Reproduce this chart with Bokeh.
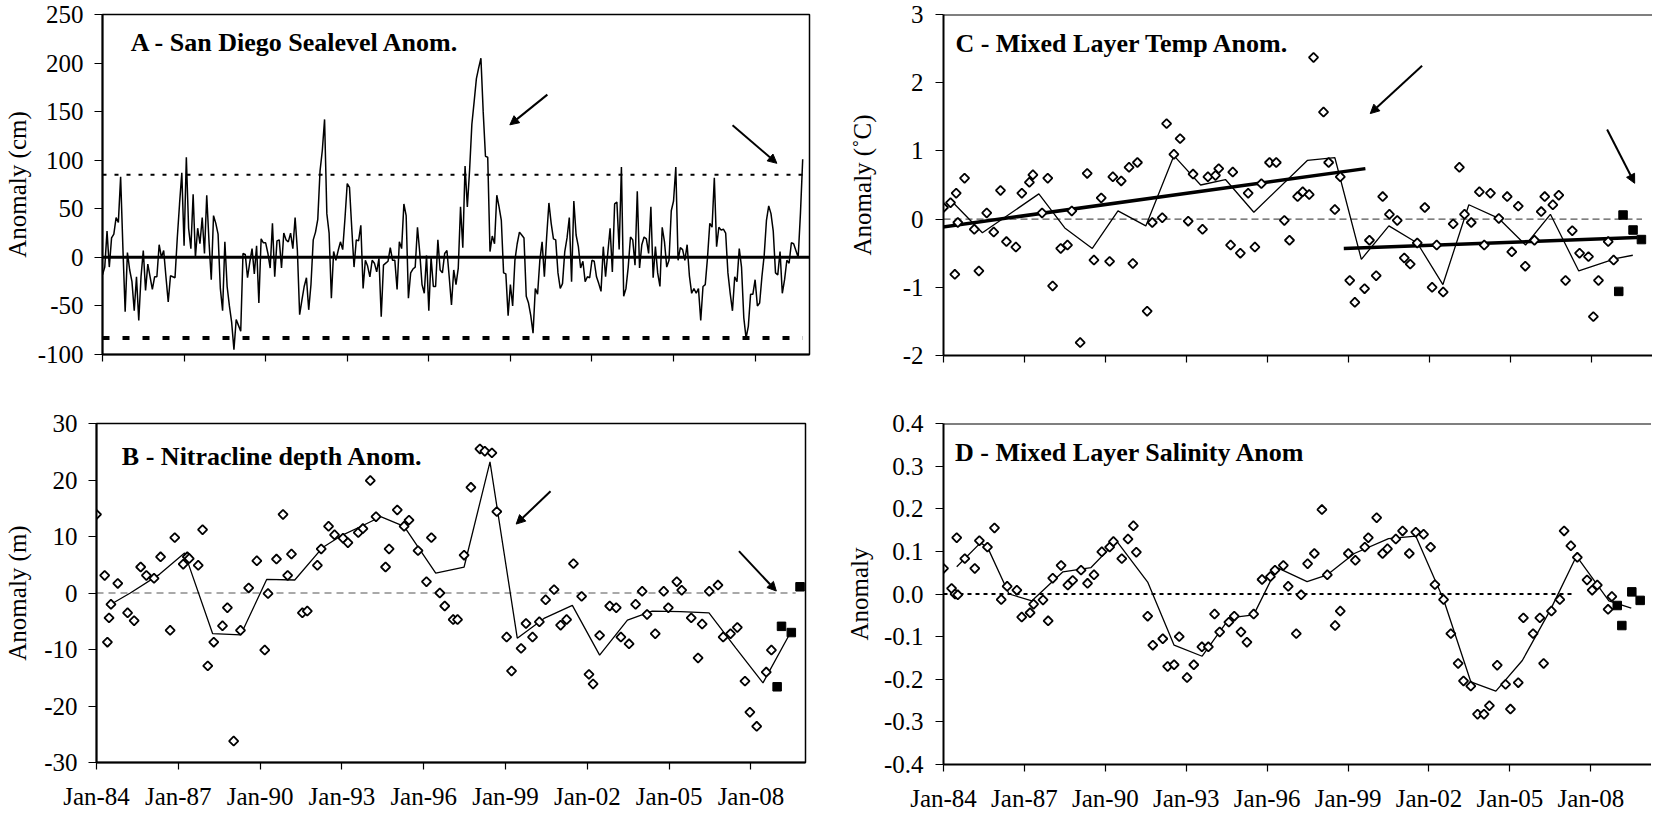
import numpy as np
from bokeh.plotting import figure
from bokeh.models import Range1d, FixedTicker, Label, Arrow, NormalHead, Span, NumeralTickFormatter
from bokeh.layouts import column, row
from bokeh.embed import file_html
from bokeh.resources import INLINE

FONT = "Liberation Serif"
FS = "25px"
TFS = "26px"

# ---------------- data ----------------
tick_years = [1984, 1987, 1990, 1993, 1996, 1999, 2002, 2005, 2008]
tick_labels = ["Jan-84", "Jan-87", "Jan-90", "Jan-93", "Jan-96", "Jan-99", "Jan-02", "Jan-05", "Jan-08"]

# A - San Diego sea level anomaly (cm), monthly from Jan 1984
sealevel_start = 1984.0
sealevel = [
    -18, -10, 27, -10, 20, 24, 41, 36, 83, 10, -56, 5,
    -13, -25, -55, -20, -65, -20, 7, -34, -7, -20, -33, -20,
    -20, 13, 0, 7, -20, -46, -19, -20, -21, 20, 55, 87,
    12, 103, 30, 9, 65, 0, 30, 14, 41, 4, 64, 16,
    -23, 43, 35, 24, -32, -55, 16, -30, -50, -67, -95, -64,
    -70, -76, 4, 3, -21, -5, 9, -17, 12, -47, 19, 15,
    15, 4, -11, 35, -20, 17, 18, -11, 25, 18, 16, 25,
    9, 41, 7, -59, -44, -30, -21, -54, -28, 18, 26, 39,
    89, 110, 142, 45, 25, -42, 6, -3, 7, 16, 8, 40,
    76, 72, 30, -10, 18, 17, 33, -32, -3, -9, -20, -3,
    -6, -15, -1, -61, -8, -6, -4, 10, -3, -3, -33, 16,
    9, 55, 43, -42, -16, -12, -10, 31, 5, -28, -37, 2,
    -55, 0, -30, -30, 18, -13, -16, 4, 7, -20, -49, -13,
    -28, -11, 52, 10, 94, 52, 90, 137, 160, 184, 195, 205,
    150, 104, 103, 6, 22, 14, 64, 52, 38, -16, -17, -60,
    -28, -50, -3, 14, 26, 23, 20, -40, -47, -60, -78, -32,
    -38, -3, 16, -20, 21, 56, 35, 19, 18, -16, -32, -27,
    6, 20, 41, -25, 58, 23, 11, -11, -4, -25, -20, -21,
    -3, -4, -20, -27, -35, 11, -20, 5, 30, -15, 55, 57,
    8, 93, -40, -32, -10, 21, 18, -8, 68, -11, 13, 21,
    19, 4, 52, -21, 11, -16, -30, 31, 16, -10, -3, 48,
    58, 93, -3, 10, 8, -3, 13, -19, -37, -32, -37, -32,
    -65, -30, -28, 0, 35, 31, 82, 11, 31, 28, 29, 25,
    -16, -37, -55, -20, -25, 9, -10, -62, -83, -71, -38, -38,
    -23, -50, -47, -20, 2, 38, 53, 45, 27, -16, -18, 6,
    -37, -23, -3, -6, 15, 14, 7, 0, 45, 101,
]
sealevel_upper = 85
sealevel_lower = -83
sealevel_ref_x = [1984.0, 2009.75]

# B - Nitracline depth anomaly (m)
nitra_x = [1984.00, 1984.30, 1984.40, 1984.46, 1984.53, 1984.78, 1985.14, 1985.38, 1985.62, 1985.83,
           1986.11, 1986.35, 1986.70, 1986.87, 1987.18, 1987.33, 1987.40, 1987.73, 1987.89, 1988.08,
           1988.30, 1988.62, 1988.80, 1989.03, 1989.28, 1989.58, 1989.88, 1990.17, 1990.29, 1990.60,
           1990.84, 1991.01, 1991.15, 1991.55, 1991.73, 1992.10, 1992.24, 1992.51, 1992.73, 1993.04,
           1993.22, 1993.60, 1993.77, 1994.04, 1994.25, 1994.60, 1994.73, 1995.03, 1995.28, 1995.46,
           1995.79, 1996.10, 1996.28, 1996.59, 1996.77, 1997.08, 1997.24, 1997.48, 1997.73, 1998.06,
           1998.24, 1998.50, 1998.68, 1999.04, 1999.22, 1999.57, 1999.75, 1999.99, 2000.24, 2000.47,
           2000.78, 2001.02, 2001.24, 2001.49, 2001.79, 2002.06, 2002.21, 2002.45, 2002.82, 2003.06,
           2003.23, 2003.53, 2003.77, 2004.01, 2004.19, 2004.49, 2004.80, 2004.97, 2005.28, 2005.46,
           2005.81, 2006.06, 2006.21, 2006.47, 2006.79, 2006.98, 2007.25, 2007.50, 2007.78, 2007.96,
           2008.21, 2008.56, 2008.75]
nitra_y = [13.9, 3.1, -8.7, -4.4, -2.0, 1.7, -3.5, -4.9, 4.6, 3.1,
           2.6, 6.4, -6.6, 9.8, 5.1, 6.4, 6.1, 4.9, 11.2, -12.9,
           -8.7, -5.8, -2.6, -26.2, -6.6, 0.9, 5.7, -10.1, -0.1, 6.0,
           13.9, 3.1, 6.9, -3.5, -3.2, 4.9, 7.8, 11.8, 10.3, 9.7,
           8.9, 10.7, 11.4, 19.9, 13.5, 4.6, 7.8, 14.7, 11.8, 12.9,
           7.5, 2.0, 9.8, 0.0, -2.3, -4.7, -4.7, 6.7, 18.7, 25.5,
           25.1, 24.8, 14.4, -7.8, -13.8, -9.8, -5.4, -7.8, -5.1, -1.2,
           0.6, -5.7, -4.7, 5.2, -0.6, -14.4, -16.1, -7.5, -2.3, -2.6,
           -7.8, -9.0, -2.0, 0.3, -3.8, -7.2, 0.3, -2.6, 2.0, 0.5,
           -4.4, -11.5, -5.5, 0.3, 1.4, -7.8, -7.2, -6.1, -15.6, -21.1,
           -23.6, -14.0, -10.1]
nitra_line_x = [1984.53, 1985.24, 1986.31, 1987.23, 1988.26, 1989.29, 1990.24, 1991.27, 1992.28, 1992.96,
                1993.75, 1994.42, 1995.28, 1996.44, 1997.48, 1998.43, 1999.43, 2000.41, 2001.45, 2002.45,
                2003.47, 2004.38, 2005.42, 2006.46, 2007.44, 2008.44, 2009.45]
nitra_line_y = [-2.0, 0.0, 3.3, 7.1, -7.2, -7.4, 2.4, 2.3, 8.0, 10.1,
                11.9, 13.5, 11.8, 3.5, 4.6, 23.2, -8.0, -4.5, -2.2, -11.0,
                -4.8, -3.2, -3.3, -3.5, -9.7, -15.9, -7.0]
nitra_new_x = [2008.96, 2009.12, 2009.48, 2009.80]
nitra_new_y = [-16.6, -5.9, -7.0, 1.1]
nitra_zero_x = [1984.0, 2009.64]

# C - Mixed layer temperature anomaly (deg C)
temp_x = [1984.00, 1984.26, 1984.42, 1984.47, 1984.53, 1984.78, 1985.14, 1985.31, 1985.60, 1985.86,
          1986.11, 1986.33, 1986.68, 1986.90, 1987.18, 1987.31, 1987.65, 1987.86, 1988.04, 1988.34,
          1988.59, 1988.75, 1989.06, 1989.32, 1989.57, 1989.84, 1990.15, 1990.27, 1990.58, 1990.87,
          1991.01, 1991.18, 1991.54, 1991.73, 1992.10, 1992.26, 1992.53, 1992.76, 1993.06, 1993.24,
          1993.59, 1993.79, 1994.07, 1994.19, 1994.63, 1994.71, 1994.99, 1995.28, 1995.53, 1995.77,
          1996.07, 1996.32, 1996.62, 1996.81, 1997.11, 1997.30, 1997.54, 1997.70, 1998.07, 1998.26,
          1998.49, 1998.69, 1999.04, 1999.23, 1999.59, 1999.77, 2000.02, 2000.26, 2000.51, 2000.80,
          2001.06, 2001.28, 2001.54, 2001.82, 2002.09, 2002.26, 2002.50, 2002.87, 2003.10, 2003.29,
          2003.54, 2003.84, 2004.02, 2004.25, 2004.56, 2004.87, 2005.04, 2005.28, 2005.54, 2005.88,
          2006.13, 2006.26, 2006.56, 2006.78, 2007.03, 2007.28, 2007.55, 2007.88, 2008.06, 2008.25,
          2008.61, 2008.81]
temp_y = [0.17, 0.24, -0.81, 0.38, -0.05, 0.60, -0.15, -0.76, 0.09, -0.19,
          0.42, -0.33, -0.41, 0.38, 0.54, 0.65, 0.09, 0.60, -0.98, -0.43,
          -0.38, 0.12, -1.81, 0.67, -0.60, 0.31, -0.62, 0.62, 0.56, 0.76,
          -0.65, 0.83, -1.35, -0.05, 0.02, 1.40, 0.95, 1.18, -0.03, 0.66,
          -0.15, 0.62, 0.64, 0.74, -0.38, 0.69, -0.50, 0.38, -0.41, 0.52,
          0.83, 0.83, -0.02, -0.31, 0.33, 0.40, 0.36, 2.37, 1.57, 0.83,
          0.14, 0.62, -0.90, -1.22, -1.02, -0.31, -0.83, 0.33, 0.07, -0.02,
          -0.57, -0.66, -0.35, 0.17, -1.00, -0.38, -1.07, -0.07, 0.76, 0.07,
          -0.05, 0.40, -0.38, 0.38, 0.01, 0.33, -0.48, 0.19, -0.69, -0.31,
          0.11, 0.33, 0.21, 0.35, -0.90, -0.17, -0.50, -0.55, -1.43, -0.90,
          -0.33, -0.60]
temp_line_x = [1984.26, 1985.44, 1987.53, 1988.49, 1989.51, 1990.46, 1991.49, 1992.53, 1993.52, 1994.44,
               1995.49, 1997.47, 1998.49, 1999.47, 2000.49, 2001.54, 2002.49, 2003.45, 2004.56, 2005.55,
               2006.47, 2007.52, 2008.88, 2009.52]
temp_line_y = [0.28, -0.20, 0.37, -0.13, -0.43, 0.12, -0.10, 0.93, 0.50, 0.58,
               0.10, 0.86, 0.90, -0.59, -0.10, -0.35, -0.96, 0.21, 0.01, -0.38,
               0.07, -0.76, -0.58, -0.53]
temp_trend1_x = [1983.89, 1999.62]
temp_trend1_y = [-0.12, 0.74]
temp_trend2_x = [1998.82, 2009.68]
temp_trend2_y = [-0.43, -0.27]
temp_new_x = [2009.00, 2009.16, 2009.53, 2009.84]
temp_new_y = [-1.06, 0.06, -0.16, -0.30]
temp_zero_x = [1984.0, 2009.86]

# D - Mixed layer salinity anomaly
sal_x = [1984.00, 1984.30, 1984.43, 1984.49, 1984.53, 1984.79, 1985.16, 1985.33, 1985.63, 1985.89,
         1986.14, 1986.36, 1986.72, 1986.90, 1987.21, 1987.34, 1987.69, 1987.88, 1988.05, 1988.36,
         1988.61, 1988.79, 1989.10, 1989.34, 1989.58, 1989.87, 1990.16, 1990.30, 1990.61, 1990.84,
         1991.04, 1991.15, 1991.57, 1991.76, 1992.13, 1992.31, 1992.55, 1992.74, 1993.03, 1993.28,
         1993.58, 1993.82, 1994.05, 1994.24, 1994.58, 1994.78, 1995.03, 1995.25, 1995.50, 1995.81,
         1996.12, 1996.29, 1996.60, 1996.78, 1997.08, 1997.26, 1997.50, 1997.75, 1998.03, 1998.23,
         1998.52, 1998.71, 1999.01, 1999.27, 1999.62, 1999.75, 2000.06, 2000.28, 2000.46, 2000.77,
         2001.02, 2001.27, 2001.51, 2001.80, 2002.06, 2002.22, 2002.54, 2002.81, 2003.08, 2003.28,
         2003.55, 2003.80, 2004.04, 2004.24, 2004.53, 2004.84, 2005.02, 2005.31, 2005.50, 2005.86,
         2006.11, 2006.25, 2006.54, 2006.85, 2007.01, 2007.26, 2007.50, 2007.86, 2008.05, 2008.24,
         2008.64, 2008.78]
sal_y = [0.060, 0.013, 0.000, 0.132, -0.002, 0.083, 0.060, 0.125, 0.110, 0.155,
         -0.013, 0.018, 0.009, -0.054, -0.044, -0.024, -0.014, -0.063, 0.037, 0.067,
         0.021, 0.032, 0.056, 0.025, 0.045, 0.099, 0.110, 0.123, 0.083, 0.129,
         0.160, 0.098, -0.052, -0.120, -0.105, -0.170, -0.166, -0.100, -0.196, -0.166,
         -0.124, -0.124, -0.047, -0.089, -0.066, -0.052, -0.089, -0.113, -0.047, 0.034,
         0.041, 0.056, 0.067, 0.018, -0.093, -0.002, 0.071, 0.095, 0.198, 0.045,
         -0.074, -0.040, 0.095, 0.079, 0.110, 0.132, 0.179, 0.095, 0.106, 0.129,
         0.148, 0.095, 0.145, 0.140, 0.110, 0.022, -0.013, -0.093, -0.163, -0.204,
         -0.216, -0.282, -0.282, -0.262, -0.167, -0.212, -0.270, -0.208, -0.056, -0.093,
         -0.056, -0.163, -0.040, -0.013, 0.148, 0.113, 0.086, 0.033, 0.009, 0.021,
         -0.036, -0.006]
sal_line_x = [1984.49, 1985.37, 1985.63, 1986.43, 1987.28, 1988.43, 1989.47, 1990.42, 1991.57, 1992.55,
              1993.59, 1994.61, 1995.50, 1996.37, 1997.48, 1998.23, 1999.23, 2000.50, 2001.51, 2002.54,
              2003.55, 2004.48, 2005.46, 2006.51, 2007.47, 2008.67, 2009.50]
sal_line_y = [0.064, 0.120, 0.110, 0.000, -0.016, 0.052, 0.062, 0.124, 0.028, -0.120,
              -0.146, -0.056, -0.049, 0.062, 0.029, 0.045, 0.095, 0.130, 0.136, -0.013,
              -0.206, -0.228, -0.156, -0.036, 0.089, -0.016, -0.033]
sal_new_x = [2008.98, 2009.15, 2009.52, 2009.83]
sal_new_y = [-0.027, -0.074, 0.005, -0.015]
sal_zero_x = [1984.0, 2007.3]

A_yticks = [-100, -50, 0, 50, 100, 150, 200, 250]
B_yticks = [-30, -20, -10, 0, 10, 20, 30]
C_yticks = [-2, -1, 0, 1, 2, 3]
D_yticks = [-0.4, -0.3, -0.2, -0.1, 0.0, 0.1, 0.2, 0.3, 0.4]


# ---------------- helpers ----------------
def make_fig(fw, fh, x0, x1, y0, y1, bl, br, bt, bb):
    p = figure(frame_width=fw, frame_height=fh,
               x_range=Range1d(x0, x1), y_range=Range1d(y0, y1),
               min_border_left=bl, min_border_right=br, min_border_top=bt, min_border_bottom=bb,
               toolbar_location=None, output_backend="svg")
    p.grid.visible = False
    p.background_fill_color = "white"
    p.border_fill_color = "white"
    p.outline_line_color = "black"
    p.outline_line_width = 1.5
    for ax in (p.xaxis[0], p.yaxis[0]):
        ax.axis_line_color = "black"
        ax.axis_line_width = 2
        ax.major_tick_line_color = "black"
        ax.major_tick_line_width = 1.2
        ax.major_tick_in = 0
        ax.major_tick_out = 8
        ax.minor_tick_line_color = None
        ax.major_label_text_font = FONT
        ax.major_label_text_font_size = FS
        ax.major_label_text_color = "black"
        ax.axis_label_text_font = FONT
        ax.axis_label_text_font_size = FS
        ax.axis_label_text_font_style = "normal"
        ax.axis_label_text_color = "black"
    p.xaxis[0].ticker = FixedTicker(ticks=tick_years)
    p.xaxis[0].major_tick_out = 7
    return p


def set_xlabels(p, show, standoff=13):
    ax = p.xaxis[0]
    if show:
        ax.major_label_overrides = dict(zip(tick_years, tick_labels))
        ax.major_label_standoff = standoff
    else:
        ax.major_label_overrides = {t: "" for t in tick_years}
        ax.major_label_text_font_size = "1px"
        ax.major_label_standoff = 0


def set_yaxis(p, ticks, label, standoff_lab, label_standoff, overrides=True):
    ax = p.yaxis[0]
    ax.ticker = FixedTicker(ticks=ticks)
    if overrides:
        ax.major_label_overrides = {t: str(t) for t in ticks}
    ax.major_label_standoff = standoff_lab
    ax.axis_label = label
    ax.axis_label_standoff = label_standoff


def title(p, x, y, text):
    p.add_layout(Label(x=x, y=y, text=text, text_font=FONT, text_font_style="bold",
                       text_font_size=TFS, text_baseline="middle", text_align="left",
                       text_color="black"))


def arrow(p, xs, ys, xe, ye):
    p.add_layout(Arrow(end=NormalHead(size=9, fill_color="black", line_color="black", line_width=1),
                       x_start=xs, y_start=ys, x_end=xe, y_end=ye,
                       line_color="black", line_width=2))


def diamonds(p, x, y):
    p.scatter(x, y, marker="square", angle=np.pi / 4, size=6.5, line_color="black",
              line_width=1.8, fill_color="white")


def squares(p, x, y):
    p.scatter(x, y, marker="square", size=8.5, line_color="black", fill_color="black")


# ---------------- Panel A ----------------
pA = make_fig(707, 340, 1984, 2010, -100, 250, 99, 36, 14, 33)
set_xlabels(pA, False)
set_yaxis(pA, A_yticks, "Anomaly (cm)", 11, 4)
pA.add_layout(Span(location=0, dimension="width", line_color="black", line_width=3))
pA.line(sealevel_ref_x, [sealevel_upper] * 2, line_color="black", line_width=2, line_dash="4 8")
pA.line(sealevel_ref_x, [sealevel_lower] * 2, line_color="black", line_width=4, line_dash="7 13")
months = sealevel_start + np.arange(len(sealevel)) / 12.0
pA.line(months, sealevel, line_color="black", line_width=1.5)
title(pA, 1985.04, 221.0, "A - San Diego Sealevel  Anom.")
arrow(pA, 2000.36, 167.5, 1998.98, 136.4)
arrow(pA, 2007.17, 136.0, 2008.80, 96.8)

# ---------------- Panel B ----------------
pB = make_fig(709, 339, 1984, 2010, -30, 30, 96, 37, 34, 49)
set_xlabels(pB, True, 13)
set_yaxis(pB, B_yticks, "Anomaly (m)", 11, 10)
pB.line(nitra_zero_x, [0, 0], line_color="#555555", line_width=1.2, line_dash="7 5")
pB.line(nitra_line_x, nitra_line_y, line_color="black", line_width=1.3)
diamonds(pB, nitra_x, nitra_y)
squares(pB, nitra_new_x, nitra_new_y)
title(pB, 1984.93, 24.2, "B - Nitracline depth Anom.")
arrow(pB, 2000.65, 18.0, 1999.39, 12.2)
arrow(pB, 2007.56, 7.4, 2008.93, 0.35)

# ---------------- Panel C ----------------
pC = make_fig(709, 341, 1984, 2010.25, -2, 3, 98, 0, 14, 32)
pC.outline_line_color = None
set_xlabels(pC, False)
set_yaxis(pC, C_yticks, "Anomaly (\u02daC)", 12, 24)
pC.add_layout(Span(location=3, dimension="width", line_color="black", line_width=2))
pC.line(temp_zero_x, [0, 0], line_color="#555555", line_width=1.2, line_dash="7 4")
pC.line(temp_line_x, temp_line_y, line_color="black", line_width=1.3)
pC.line(temp_trend1_x, temp_trend1_y, line_color="black", line_width=3.5)
pC.line(temp_trend2_x, temp_trend2_y, line_color="black", line_width=3.5)
diamonds(pC, temp_x, temp_y)
squares(pC, temp_new_x, temp_new_y)
title(pC, 1984.44, 2.58, "C - Mixed Layer Temp Anom.")
arrow(pC, 2001.72, 2.249, 1999.80, 1.547)
arrow(pC, 2008.57, 1.314, 2009.59, 0.525)

# ---------------- Panel D ----------------
pD = make_fig(708, 341, 1984, 2010.25, -0.4, 0.4, 99, 0, 36, 45)
pD.outline_line_color = None
set_xlabels(pD, True, 13)
set_yaxis(pD, D_yticks, "Anomaly", 12, 8, overrides=False)
pD.yaxis[0].formatter = NumeralTickFormatter(format="0.0")
pD.add_layout(Span(location=0.4, dimension="width", line_color="black", line_width=2))
pD.line(sal_zero_x, [0, 0], line_color="black", line_width=2, line_dash="4 4")
pD.line(sal_line_x, sal_line_y, line_color="black", line_width=1.3)
diamonds(pD, sal_x, sal_y)
squares(pD, sal_new_x, sal_new_y)
title(pD, 1984.43, 0.332, "D - Mixed Layer Salinity Anom")

layout = column(row(pA, pC), row(pB, pD))
open("out.html", "w").write(file_html(layout, INLINE))
